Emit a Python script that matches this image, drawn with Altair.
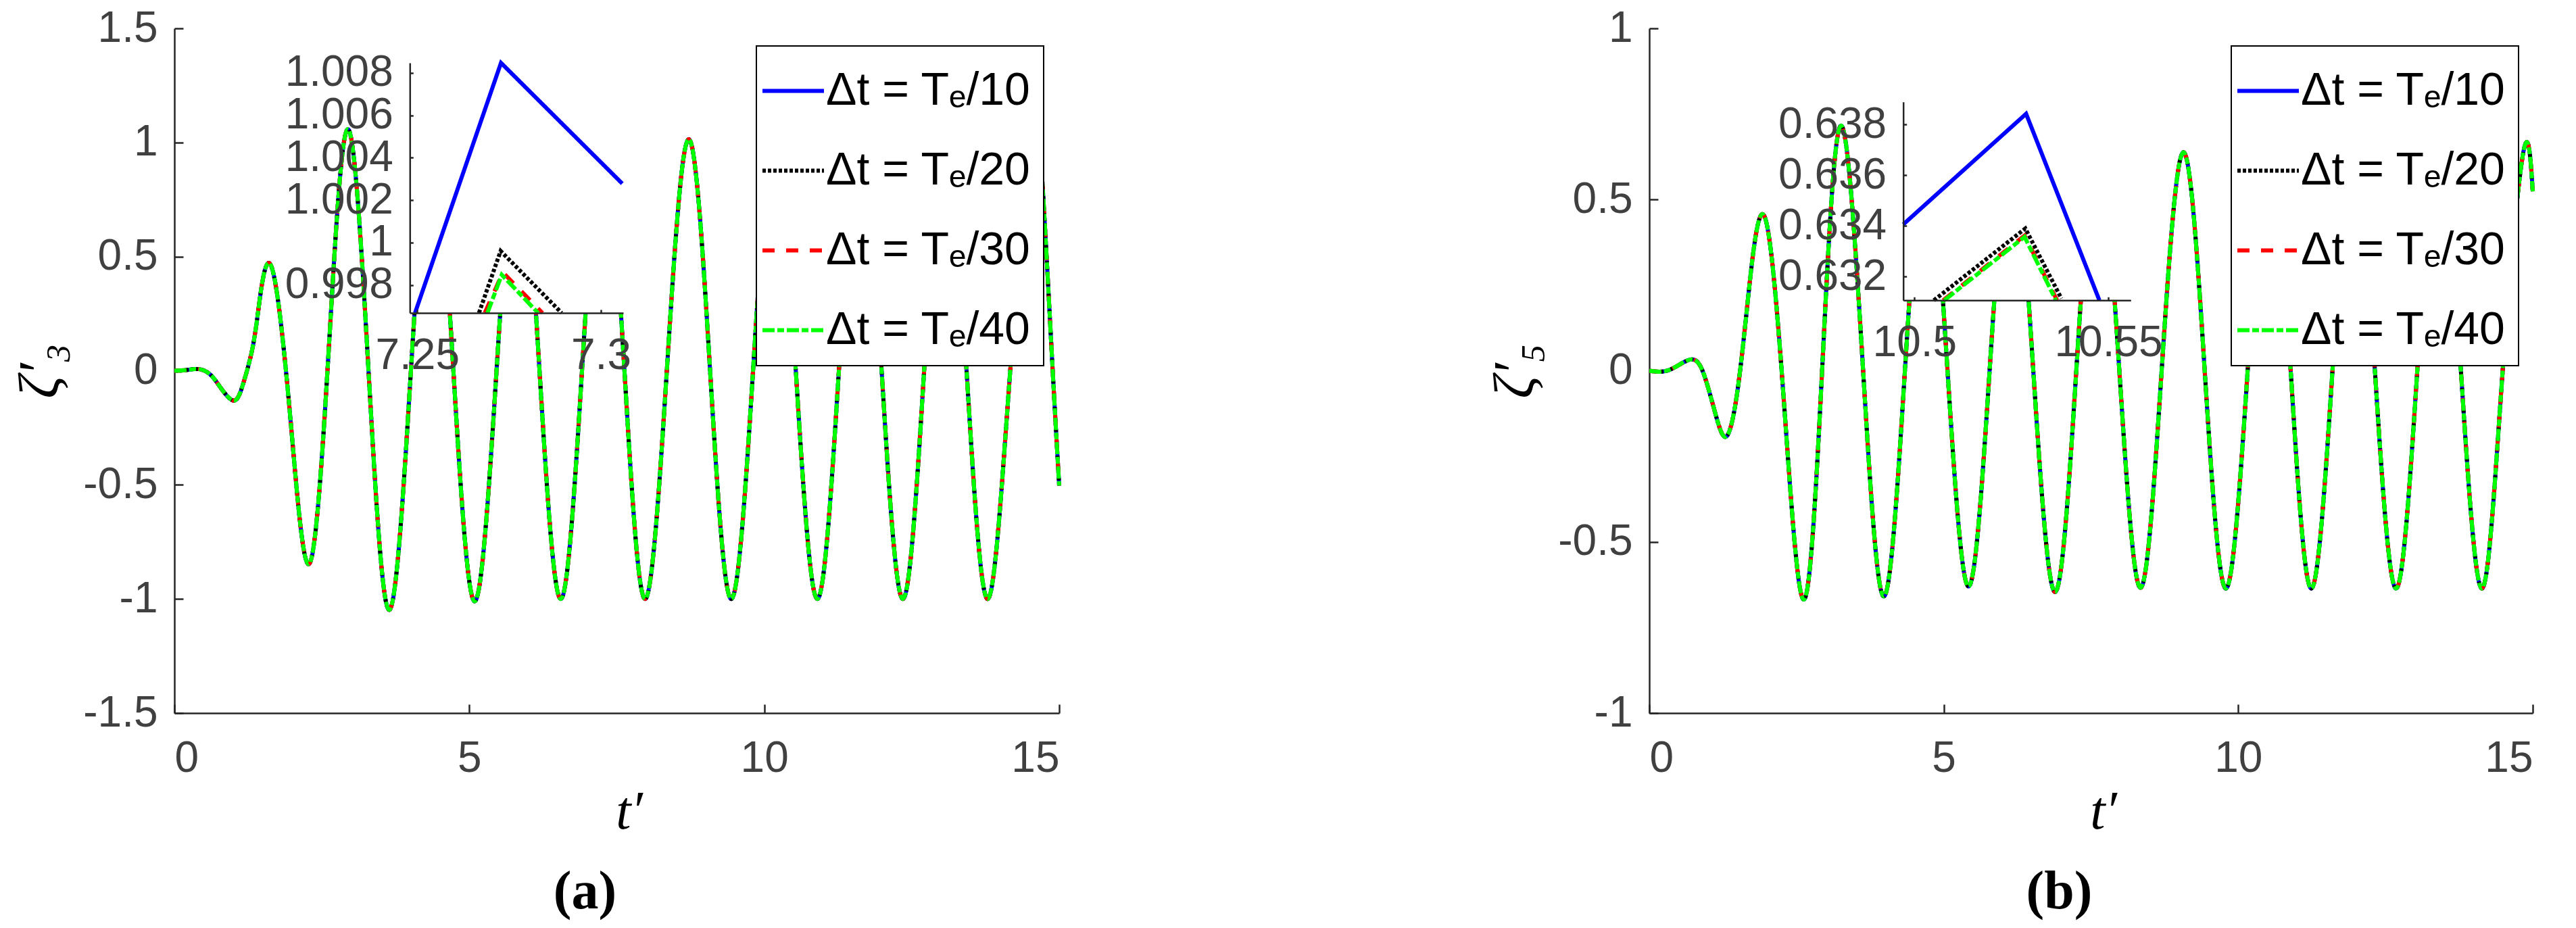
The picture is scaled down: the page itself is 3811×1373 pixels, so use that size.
import altair as alt
import pandas as pd

SANS = "Liberation Sans, Arial, Helvetica, Noto Sans, sans-serif"
SERIF = "Liberation Serif, Times New Roman, DejaVu Serif, serif"

# ---------------- series / legend ----------------
SERIES = ["Δt = Tₑ/10", "Δt = Tₑ/20", "Δt = Tₑ/30", "Δt = Tₑ/40"]
COLORS = ["#0000ff", "#000000", "#ff0000", "#00ff00"]
DASHES = [[1, 0], [5, 3], [18, 17], [18, 4, 10, 4]]

# ---------------- panel (a): zeta'_3 ----------------
A_T = [0.0, 0.2, 0.42, 0.6, 0.75, 0.99, 1.15, 1.3, 1.42, 1.64, 1.96, 2.29, 2.62,
       2.945, 3.29, 3.64, 4.005, 4.37, 4.73, 5.09, 5.46, 5.83, 6.19, 6.55, 6.91,
       7.27, 7.63, 7.98, 8.35, 8.72, 9.08, 9.44, 9.81, 10.17, 10.535, 10.9,
       11.265, 11.63, 11.99, 12.35, 12.71, 13.07, 13.43, 13.79, 14.17, 14.55,
       14.74, 14.89, 15.0]
A_V = [0.0, 0.003, 0.007, -0.015, -0.062, -0.13, -0.07, 0.07, 0.26, 0.46, -0.19,
       -0.845, 0.107, 1.058, 0.005, -1.048, -0.02, 1.005, 0.0, -1.01, -0.005,
       1.0, 0.0, -1.0, 0.0, 1.0, 0.0, -1.0, 0.007, 1.014, 0.007, -1.0, 0.0, 1.0,
       0.0, -1.0, 0.0, 1.0, 0.0, -1.0, 0.0, 1.0, 0.0, -1.0, 0.0, 1.0, 0.716,
       0.0, -0.503]
A_YTICKS = [-1.5, -1, -0.5, 0, 0.5, 1, 1.5]

# inset (a)
A_IN10_T = [7.2494, 7.2728, 7.3058]
A_IN10_V = [0.99668, 1.0086, 1.00278]
A_IN20_T = [7.2668, 7.2727, 7.2893]
A_IN20_V = [0.99668, 0.9996, 0.99668]
A_IN30_T = [7.2684, 7.2733, 7.2841]
A_IN30_V = [0.99668, 0.99859, 0.99668]
A_IN40_T = [7.2691, 7.2730, 7.2829]
A_IN40_V = [0.99668, 0.99848, 0.99668]
A_IN_XDOM = [7.24798, 7.30607]
A_IN_YDOM = [0.99668, 1.00847]
A_IN_XTICKS = [7.25, 7.3]
A_IN_YTICKS = [0.998, 1.0, 1.002, 1.004, 1.006, 1.008]

# ---------------- panel (b): zeta'_5 ----------------
B_T = [0.0, 0.35, 0.72, 0.94, 1.13, 1.30, 1.47, 1.66, 1.95, 2.29, 2.63, 2.94,
       3.255, 3.62, 3.98, 4.34, 4.70, 5.06, 5.42, 5.78, 6.15, 6.52, 6.89, 7.25,
       7.61, 7.98, 8.34, 8.70, 9.07, 9.43, 9.79, 10.16, 10.53, 10.89, 11.24,
       11.60, 11.96, 12.32, 12.68, 13.04, 13.41, 13.78, 14.14, 14.49, 14.84, 15.0]
B_V = [0.0, 0.003, 0.033, -0.017, -0.13, -0.193, -0.09, 0.184, 0.453, -0.1,
       -0.668, 0.02, 0.716, 0.03, -0.659, 0.0, 0.65, 0.01, -0.630, 0.005, 0.645,
       0.0, -0.646, 0.0, 0.64, 0.003, -0.634, 0.002, 0.638, 0.001, -0.636, 0.001,
       0.638, 0.001, -0.636, 0.001, 0.638, 0.001, -0.636, 0.001, 0.638, 0.001,
       -0.636, 0.001, 0.638, 0.524]
B_YTICKS = [-1, -0.5, 0, 0.5, 1]

# inset (b)
B_IN10_T = [10.4971, 10.5288, 10.5477]
B_IN10_V = [0.63406, 0.63842, 0.63107]
B_IN20_T = [10.5050, 10.5286, 10.5379]
B_IN20_V = [0.63107, 0.6339, 0.63114]
B_IN30_T = [10.5074, 10.5284, 10.5368]
B_IN30_V = [0.63107, 0.63362, 0.63107]
B_IN40_T = [10.5077, 10.5284, 10.5365]
B_IN40_V = [0.63107, 0.63357, 0.63107]
B_IN_XDOM = [10.4971, 10.5558]
B_IN_YDOM = [0.63107, 0.63889]
B_IN_XTICKS = [10.5, 10.55]
B_IN_YTICKS = [0.632, 0.634, 0.636, 0.638]

XTICKS = [0, 5, 10, 15]

# ---------------- layout (pixels) ----------------
H = 1013
WA, WB = 1309, 1307
A_IN_XR, A_IN_YR = [348.3, 664.0], [421.0, 51.0]
B_IN_XR, B_IN_YR = [375.7, 712.3], [402.3, 108.7]

AXC = "#262626"
LBL = "''+datum.value"


def legend():
    return alt.Legend(
        title=None, orient="none", legendX=861, legendY=26,
        symbolType="stroke", symbolSize=8281, symbolStrokeWidth=6,
        symbolOffset=-12, labelOffset=0,
        labelFont=SANS, labelFontSize=68, labelColor="black", labelLimit=900,
        rowPadding=35, padding=18,
        fillColor="white", strokeColor="black", zindex=2,
    )


def panel(t, v, ydom, yticks, ytitle, ins, in_xdom, in_ydom, in_xr, in_yr,
          in_xticks, in_yticks, W, label):
    main = pd.DataFrame({
        "t": t * 4, "v": v * 4,
        "s": [s for s in SERIES for _ in t],
    })
    inset = pd.DataFrame({
        "t": [x for tt, _ in ins for x in tt],
        "v": [y for _, vv in ins for y in vv],
        "s": [SERIES[i] for i, (tt, _) in enumerate(ins) for _ in tt],
    })
    box = pd.DataFrame({"x": [in_xdom[0]], "x2": [in_xdom[1]],
                        "y": [in_ydom[0]], "y2": [in_ydom[1]]})

    xs = alt.Scale(domain=[0, 15], nice=False, zero=False)
    ys = alt.Scale(domain=ydom, nice=False, zero=False)
    ixs = alt.Scale(domain=in_xdom, range=in_xr, nice=False, zero=False)
    iys = alt.Scale(domain=in_ydom, range=in_yr, nice=False, zero=False, clamp=True)

    color = alt.Color("s:N", scale=alt.Scale(domain=SERIES, range=COLORS), legend=legend())
    dash = alt.StrokeDash("s:N", scale=alt.Scale(domain=SERIES, range=DASHES), legend=legend())

    lab = dict(domainColor=AXC, domainWidth=2.5, labelColor="#404040", labelFont=SANS,
               labelFontSize=64, grid=False, ticks=False, labelExpr=LBL,
               labelOverlap=False, labelBound=False)
    tck = dict(domain=False, labels=False, ticks=True, tickColor=AXC, tickWidth=2.5,
               grid=False, title=None)

    lines = alt.Chart(main).mark_line(strokeWidth=6, interpolate="natural").encode(
        x=alt.X("t:Q", scale=xs, axis=alt.Axis(
            orient="bottom", values=XTICKS, labelPadding=35, title="t′",
            titleFont=SERIF, titleFontStyle="italic", titleFontWeight="normal",
            titleFontSize=80, titleColor="black", titleX=W / 2 + 18, titleY=146,
            titleBaseline="middle", **lab)),
        y=alt.Y("v:Q", scale=ys, axis=alt.Axis(
            orient="left", values=yticks, labelPadding=25, title=ytitle,
            titleFont=SERIF, titleFontStyle="italic", titleFontWeight="normal",
            titleFontSize=84, titleColor="black", titleX=-198, titleBaseline="middle",
            titleAngle=270, **lab)),
        color=color, strokeDash=dash,
    )

    first = main[main["s"] == SERIES[0]]
    ticks_main = alt.Chart(first).mark_line(opacity=0).encode(
        x=alt.X("t:Q", scale=xs, axis=alt.Axis(orient="top", offset=-H, values=XTICKS,
                                                tickSize=13, **tck)),
        y=alt.Y("v:Q", scale=ys, axis=alt.Axis(orient="right", offset=-W, values=yticks,
                                                tickSize=13, **tck)),
    )

    bg = alt.Chart(box).mark_rect(fill="white").encode(
        x=alt.X("x:Q", scale=ixs, axis=alt.Axis(
            orient="bottom", offset=-(H - in_yr[0]), values=in_xticks, labelPadding=31,
            title=None, zindex=1, **lab)),
        x2="x2:Q",
        y=alt.Y("y:Q", scale=iys, axis=alt.Axis(
            orient="left", offset=-in_xr[0], values=in_yticks, labelPadding=25,
            title=None, zindex=1, **lab)),
        y2="y2:Q",
    )

    inset_lines = alt.Chart(inset).mark_line(strokeWidth=6).encode(
        x=alt.X("t:Q", scale=ixs, axis=alt.Axis(orient="top", offset=-in_yr[0],
                                                 values=in_xticks, tickSize=5, zindex=1, **tck)),
        y=alt.Y("v:Q", scale=iys, axis=alt.Axis(orient="right", offset=-(W - in_xr[0]),
                                                 values=in_yticks, tickSize=5, zindex=1, **tck)),
        color=color, strokeDash=dash,
    )

    return alt.layer(lines, ticks_main, bg, inset_lines).resolve_scale(
        x="independent", y="independent"
    ).properties(
        width=W, height=H,
        title=alt.TitleParams(label, orient="bottom", font=SERIF, fontSize=80,
                              fontWeight="bold", color="black", dx=-47, offset=40),
    )


pa = panel(A_T, A_V, [-1.5, 1.5], A_YTICKS, "ζ′₃",
           [(A_IN10_T, A_IN10_V), (A_IN20_T, A_IN20_V), (A_IN30_T, A_IN30_V), (A_IN40_T, A_IN40_V)],
           A_IN_XDOM, A_IN_YDOM, A_IN_XR, A_IN_YR, A_IN_XTICKS, A_IN_YTICKS, WA, "(a)")
pb = panel(B_T, B_V, [-1, 1], B_YTICKS, "ζ′₅",
           [(B_IN10_T, B_IN10_V), (B_IN20_T, B_IN20_V), (B_IN30_T, B_IN30_V), (B_IN40_T, B_IN40_V)],
           B_IN_XDOM, B_IN_YDOM, B_IN_XR, B_IN_YR, B_IN_XTICKS, B_IN_YTICKS, WB, "(b)")

chart = alt.HConcatChart(hconcat=[pa, pb], spacing=873, bounds="flush").resolve_scale(
    color="independent", strokeDash="independent"
).properties(
    padding={"left": 10, "top": 2, "right": 5, "bottom": 5}, background="white"
).configure_view(stroke=None).configure_legend(strokeWidth=2)

chart.save("out.html", embed_options={"renderer": "svg", "actions": False})
